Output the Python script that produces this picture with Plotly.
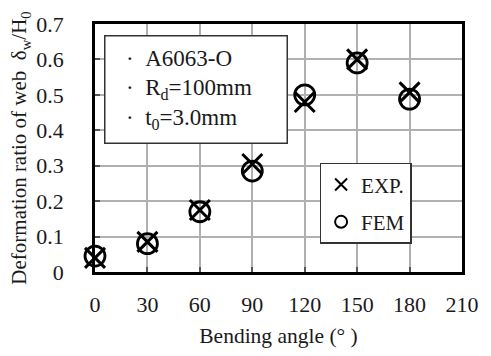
import plotly.graph_objects as go

angles = [0, 30, 60, 90, 120, 150, 180]
exp_vals = [0.04, 0.085, 0.175, 0.305, 0.48, 0.60, 0.507]
fem_vals = [0.045, 0.08, 0.17, 0.285, 0.50, 0.59, 0.488]
x_ticks = [0, 30, 60, 90, 120, 150, 180, 210]
y_ticks = [0, 0.1, 0.2, 0.3, 0.4, 0.5, 0.6, 0.7]

FONT = "Liberation Serif"
TXT = "#1a1a1a"

fig = go.Figure()
fig.add_trace(go.Scatter(
    x=angles, y=exp_vals, mode="markers", name="EXP.",
    legendgroup="a",
    marker=dict(symbol="x-thin-open", size=20, color="black", line=dict(color="black", width=3)),
    cliponaxis=False,
))
fig.add_trace(go.Scatter(
    x=angles, y=fem_vals, mode="markers", name="FEM",
    legendgroup="b",
    marker=dict(symbol="circle-open", size=20, color="black", line=dict(color="black", width=2.8)),
    cliponaxis=False,
))

fig.update_layout(
    width=491, height=356,
    margin=dict(l=95, r=21, t=18, b=84),
    plot_bgcolor="white", paper_bgcolor="white",
    font=dict(family=FONT, size=21, color=TXT),
    showlegend=True,
    legend=dict(
        x=0.612, y=0.44, xanchor="left", yanchor="top",
        bordercolor="#333", borderwidth=1.5, bgcolor="white",
        font=dict(family=FONT, size=21, color=TXT),
        tracegroupgap=7, traceorder="grouped",
        itemsizing="constant", itemwidth=30,
    ),
    xaxis=dict(
        range=[0, 210], tickvals=x_ticks, ticktext=[str(v) for v in x_ticks],
        showgrid=True, gridcolor="#b0b0b0", gridwidth=1.5,
        showline=True, linecolor="black", linewidth=2.5, mirror=True,
        ticks="inside", ticklen=5, tickwidth=1.5, tickcolor="#555",
        zeroline=False, ticklabelstandoff=11,
        tickfont=dict(family=FONT, size=22, color=TXT),
        title=dict(text="Bending angle (° )", font=dict(family=FONT, size=21.5, color=TXT), standoff=12),
    ),
    yaxis=dict(
        range=[0, 0.7], tickvals=y_ticks,
        ticktext=["0" if v == 0 else f"{v:.1f}" for v in y_ticks],
        showgrid=True, gridcolor="#b0b0b0", gridwidth=1.5,
        showline=True, linecolor="black", linewidth=2.5, mirror=True,
        ticks="inside", ticklen=5, tickwidth=1.5, tickcolor="#555",
        zeroline=False, ticklabelstandoff=24,
        tickfont=dict(family=FONT, size=22, color=TXT),
        title=dict(text="Deformation ratio of web  δ<sub>w</sub>/H<sub>0</sub>",
                   font=dict(family=FONT, size=21, color=TXT), standoff=4),
    ),
    annotations=[dict(
        xref="paper", yref="paper", x=0.024, y=0.955, xanchor="left", yanchor="top",
        text=("&nbsp;&nbsp;·&nbsp;&nbsp;A6063-O<br>"
              "&nbsp;&nbsp;·&nbsp;&nbsp;R<sub>d</sub>=100mm<br>"
              "&nbsp;&nbsp;·&nbsp;&nbsp;t<sub>0</sub>=3.0mm"),
        showarrow=False, align="left", width=163,
        font=dict(family=FONT, size=23, color=TXT),
        bordercolor="#333", borderwidth=1.5, borderpad=9, bgcolor="white",
    )],
)

fig.write_html("out.html")
